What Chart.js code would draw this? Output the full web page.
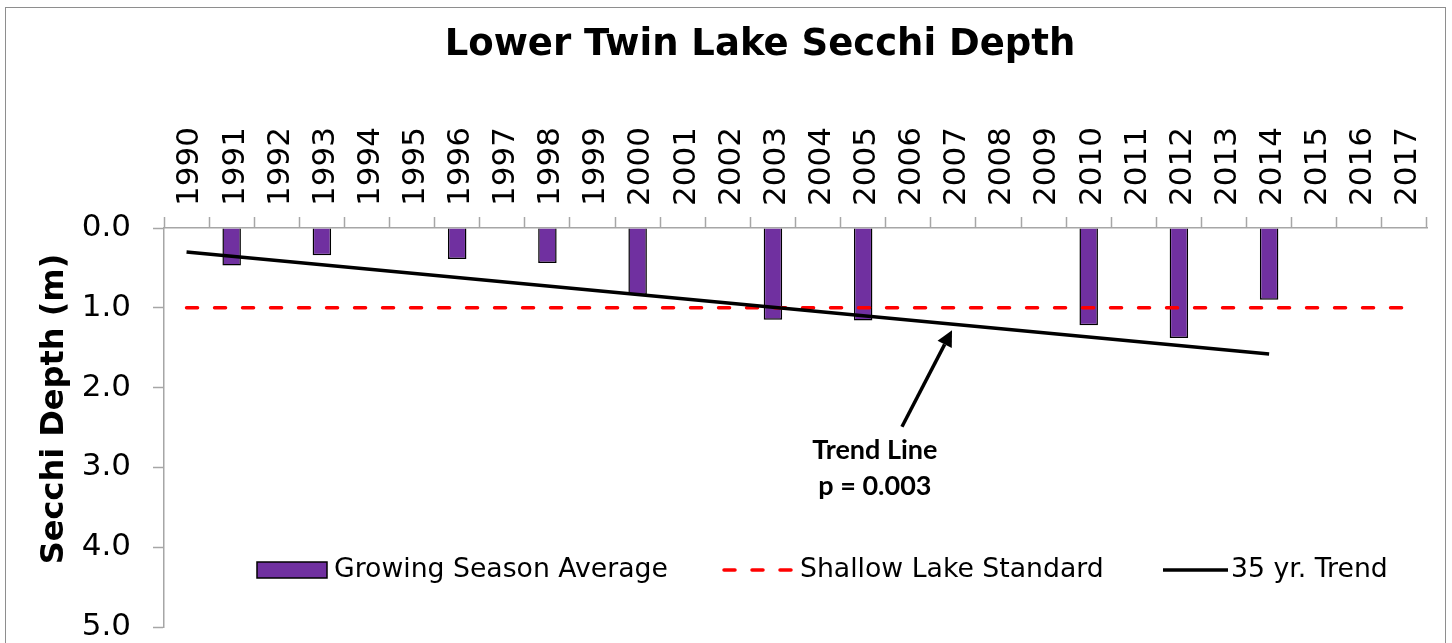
<!DOCTYPE html>
<html>
<head>
<meta charset="utf-8">
<script src="https://cdn.jsdelivr.net/npm/chart.js@4.4.0/dist/chart.umd.min.js"></script>
<style>
  html, body { margin: 0; padding: 0; background: #fff; overflow: hidden; }
  #frame { position: absolute; left: 5px; top: 7px; width: 1439px; height: 700px; border: 1.5px solid #8e8e8e; }
  #chart { position: absolute; left: 0; top: 0; }
</style>
</head>
<body>
<div id="frame"></div>
<canvas id="chart" width="1452" height="643"></canvas>
<script>
const years = ['1990', '1991', '1992', '1993', '1994', '1995', '1996', '1997', '1998', '1999',
               '2000', '2001', '2002', '2003', '2004', '2005', '2006', '2007', '2008', '2009',
               '2010', '2011', '2012', '2013', '2014', '2015', '2016', '2017'];

// growing season average secchi depth (m)
const growingSeasonAvg = [null, 0.47, null, 0.34, null, null, 0.39, null, 0.44, null,
                          0.84, null, null, 1.15, null, 1.16, null, null, null, null,
                          1.22, null, 1.38, null, 0.90, null, null, null];

const shallowLakeStandard = [1.0, 1.0, 1.0, 1.0, 1.0, 1.0, 1.0, 1.0, 1.0, 1.0,
                             1.0, 1.0, 1.0, 1.0, 1.0, 1.0, 1.0, 1.0, 1.0, 1.0,
                             1.0, 1.0, 1.0, 1.0, 1.0, 1.0, 1.0, 1.0];

// trend line end points (1990 and 2014)
const trend35yr = [0.30, null, null, null, null, null, null, null, null, null,
                   null, null, null, null, null, null, null, null, null, null,
                   null, null, null, null, 1.58, null, null, null];

const depthTicks = [0, 1, 2, 3, 4, 5];

const chartTitle = 'Lower Twin Lake Secchi Depth';
const yTitle = 'Secchi Depth (m)';
const legendNames = ['Growing Season Average', 'Shallow Lake Standard', '35 yr. Trend'];
const noteLines = ['Trend Line', 'p = 0.003'];

const PURPLE = '#7030A0';
const AXIS_GREY = '#a6a6a6';

// arrow + note, in (category index, depth) units
const noteAt = { x: 15.26, y1: 2.90, y2: 3.34 };
const arrowFrom = { x: 15.86, y: 2.49 };
const arrowTo = { x: 16.97, y: 1.28 };

const extras = {
  id: 'extras',
  afterDraw(chart) {
    const ctx = chart.ctx;
    const xs = chart.scales.x, ys = chart.scales.y;
    ctx.save();
    ctx.fillStyle = '#000';

    // title
    ctx.font = 'bold 37px "DejaVu Sans"';
    ctx.textAlign = 'center';
    ctx.textBaseline = 'alphabetic';
    ctx.fillText(chartTitle, 760, 55);

    // y axis title
    ctx.save();
    ctx.translate(63, 409);
    ctx.rotate(-Math.PI / 2);
    ctx.font = 'bold 32px "DejaVu Sans"';
    ctx.fillText(yTitle, 0, 0);
    ctx.restore();

    // note
    ctx.font = 'bold 27px Lato';
    const nx = xs.getPixelForValue(noteAt.x);
    ctx.fillText(noteLines[0], nx, ys.getPixelForValue(noteAt.y1));
    ctx.fillText(noteLines[1], nx, ys.getPixelForValue(noteAt.y2));

    // arrow
    const ax0 = xs.getPixelForValue(arrowFrom.x), ay0 = ys.getPixelForValue(arrowFrom.y);
    const ax1 = xs.getPixelForValue(arrowTo.x), ay1 = ys.getPixelForValue(arrowTo.y);
    const ang = Math.atan2(ay1 - ay0, ax1 - ax0);
    const headLen = 16, headW = 8;
    ctx.strokeStyle = '#000';
    ctx.lineWidth = 3.5;
    ctx.beginPath();
    ctx.moveTo(ax0, ay0);
    ctx.lineTo(ax1 - Math.cos(ang) * headLen, ay1 - Math.sin(ang) * headLen);
    ctx.stroke();
    ctx.beginPath();
    ctx.moveTo(ax1, ay1);
    ctx.lineTo(ax1 - Math.cos(ang) * headLen - Math.sin(ang) * headW, ay1 - Math.sin(ang) * headLen + Math.cos(ang) * headW);
    ctx.lineTo(ax1 - Math.cos(ang) * headLen + Math.sin(ang) * headW, ay1 - Math.sin(ang) * headLen - Math.cos(ang) * headW);
    ctx.closePath();
    ctx.fill();

    // legend
    const ly = 570;
    ctx.font = '26.7px "DejaVu Sans"';
    ctx.textAlign = 'left';
    ctx.textBaseline = 'middle';

    ctx.fillStyle = PURPLE;
    ctx.fillRect(257, 562, 70, 16);
    ctx.lineWidth = 1.5;
    ctx.strokeStyle = '#000';
    ctx.strokeRect(257, 562, 70, 16);
    ctx.fillStyle = '#000';
    ctx.fillText(legendNames[0], 334, ly);

    ctx.strokeStyle = '#ff0000';
    ctx.lineWidth = 3.5;
    ctx.lineCap = 'round';
    ctx.setLineDash([11, 17]);
    ctx.beginPath();
    ctx.moveTo(724, ly);
    ctx.lineTo(792, ly);
    ctx.stroke();
    ctx.setLineDash([]);
    ctx.fillText(legendNames[1], 800, ly);

    ctx.strokeStyle = '#000';
    ctx.lineCap = 'butt';
    ctx.beginPath();
    ctx.moveTo(1163, ly);
    ctx.lineTo(1228, ly);
    ctx.stroke();
    ctx.fillText(legendNames[2], 1231, ly);

    ctx.restore();
  }
};

function noPadding(scale) {
  scale.paddingTop = 0;
  scale.paddingBottom = 0;
  scale.paddingLeft = 0;
  scale.paddingRight = 0;
}

const chart = new Chart(document.getElementById('chart').getContext('2d'), {
  data: {
    labels: years,
    datasets: [
      {
        type: 'line',
        label: legendNames[2],
        data: trend35yr,
        borderColor: '#000',
        borderWidth: 3.5,
        pointRadius: 0,
        spanGaps: true,
        order: 0
      },
      {
        type: 'line',
        label: legendNames[1],
        data: shallowLakeStandard,
        borderColor: '#ff0000',
        borderWidth: 3.5,
        borderDash: [11, 17],
        borderCapStyle: 'round',
        pointRadius: 0,
        order: 1
      },
      {
        type: 'bar',
        label: legendNames[0],
        data: growingSeasonAvg,
        backgroundColor: PURPLE,
        borderColor: '#000',
        borderWidth: 1.5,
        categoryPercentage: 1,
        barPercentage: 0.41,
        order: 2
      }
    ]
  },
  options: {
    responsive: false,
    animation: false,
    layout: { padding: { left: 0, top: 0, right: 25, bottom: 16 } },
    plugins: {
      legend: { display: false },
      title: { display: false },
      tooltip: { enabled: false }
    },
    scales: {
      x: {
        type: 'category',
        position: 'top',
        offset: true,
        grid: {
          offset: true,
          drawOnChartArea: false,
          tickLength: 11,
          tickColor: AXIS_GREY,
          tickWidth: 1.5
        },
        border: { color: AXIS_GREY, width: 1.5 },
        ticks: {
          autoSkip: false,
          maxRotation: 90,
          minRotation: 90,
          labelOffset: 41,
          padding: 11,
          color: '#000',
          font: { family: 'DejaVu Sans', size: 31 }
        },
        afterFit(scale) { scale.height = 228; noPadding(scale); }
      },
      y: {
        reverse: true,
        min: 0,
        max: 5,
        afterBuildTicks(scale) { scale.ticks = depthTicks.map(v => ({ value: v })); },
        grid: {
          drawOnChartArea: false,
          tickLength: 11,
          tickColor: AXIS_GREY,
          tickWidth: 1.5
        },
        border: { color: AXIS_GREY, width: 1.5 },
        ticks: {
          padding: 22,
          color: '#000',
          font: { family: 'DejaVu Sans', size: 31 },
          callback: v => v.toFixed(1)
        },
        afterFit(scale) { scale.width = 164; noPadding(scale); }
      }
    }
  },
  plugins: [extras]
});
</script>
</body>
</html>
